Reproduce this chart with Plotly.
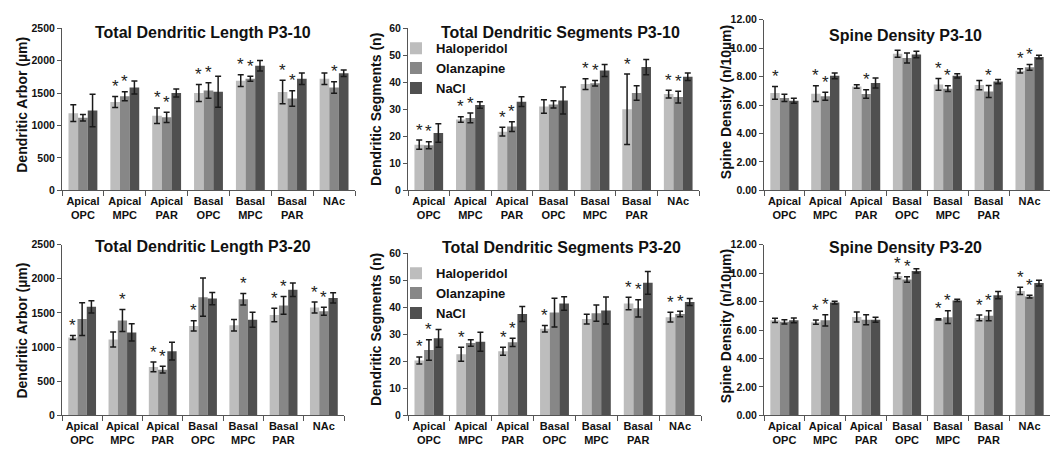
import plotly.graph_objects as go

# ---------------- data ----------------
categories = ["Apical<br>OPC", "Apical<br>MPC", "Apical<br>PAR", "Basal<br>OPC",
              "Basal<br>MPC", "Basal<br>PAR", "NAc"]
treatments = ["Haloperidol", "Olanzapine", "NaCl"]

# Total Dendritic Length P3-10
len10_hal = [1190, 1360, 1150, 1500, 1690, 1515, 1720]
len10_hal_err = [130, 85, 120, 130, 90, 180, 90]
len10_ola = [1120, 1450, 1125, 1540, 1720, 1415, 1585]
len10_ola_err = [50, 70, 80, 120, 40, 120, 90]
len10_nacl = [1230, 1585, 1500, 1520, 1920, 1720, 1805]
len10_nacl_err = [250, 100, 60, 240, 80, 90, 50]
len10_sig_hal = [0, 1, 1, 1, 1, 1, 0]
len10_sig_ola = [0, 1, 1, 1, 1, 1, 1]

# Total Dendritic Segments P3-10
seg10_hal = [16.9, 26.2, 21.7, 31.0, 39.3, 30.0, 35.6]
seg10_hal_err = [1.7, 1.0, 1.6, 2.5, 2.0, 13.0, 1.4]
seg10_ola = [16.7, 26.8, 23.6, 31.8, 39.6, 36.0, 34.5]
seg10_ola_err = [1.3, 1.8, 1.8, 1.3, 1.0, 2.7, 2.2]
seg10_nacl = [21.2, 31.6, 32.8, 33.2, 44.3, 45.6, 42.0]
seg10_nacl_err = [3.4, 1.2, 1.8, 5.0, 2.2, 2.8, 1.4]
seg10_sig_hal = [1, 1, 1, 0, 1, 1, 1]
seg10_sig_ola = [1, 1, 1, 0, 1, 0, 1]

# Spine Density P3-10
sd10_hal = [6.85, 6.80, 7.30, 9.60, 7.45, 7.40, 8.40]
sd10_hal_err = [0.45, 0.55, 0.12, 0.25, 0.42, 0.32, 0.15]
sd10_ola = [6.50, 6.62, 6.78, 9.30, 7.15, 6.95, 8.65]
sd10_ola_err = [0.25, 0.28, 0.30, 0.35, 0.20, 0.42, 0.20]
sd10_nacl = [6.30, 8.05, 7.55, 9.55, 8.05, 7.65, 9.38]
sd10_nacl_err = [0.18, 0.20, 0.35, 0.22, 0.15, 0.15, 0.12]
sd10_sig_hal = [1, 1, 0, 0, 1, 0, 1]
sd10_sig_ola = [0, 1, 1, 0, 1, 1, 1]

# Total Dendritic Length P3-20
len20_hal = [1140, 1110, 710, 1310, 1320, 1470, 1580]
len20_hal_err = [30, 110, 70, 75, 85, 100, 80]
len20_ola = [1410, 1390, 670, 1730, 1700, 1610, 1525]
len20_ola_err = [240, 160, 50, 280, 85, 130, 60]
len20_nacl = [1590, 1215, 940, 1710, 1400, 1840, 1720]
len20_nacl_err = [90, 125, 130, 90, 110, 100, 75]
len20_sig_hal = [1, 0, 1, 1, 0, 1, 1]
len20_sig_ola = [0, 1, 1, 0, 1, 1, 1]

# Total Dendritic Segments P3-20
seg20_hal = [20.3, 22.6, 23.7, 32.0, 35.6, 41.4, 36.3]
seg20_hal_err = [1.3, 2.6, 1.5, 1.2, 1.8, 2.3, 1.8]
seg20_ola = [24.2, 26.8, 27.0, 38.0, 37.8, 39.6, 37.5]
seg20_ola_err = [3.8, 1.2, 1.5, 5.3, 3.0, 3.2, 1.0]
seg20_nacl = [28.5, 27.2, 37.5, 41.4, 38.8, 49.0, 41.9]
seg20_nacl_err = [3.3, 3.5, 2.8, 2.5, 5.0, 4.2, 1.3]
seg20_sig_hal = [1, 1, 1, 1, 0, 1, 1]
seg20_sig_ola = [1, 0, 1, 0, 0, 1, 1]

# Spine Density P3-20
sd20_hal = [6.68, 6.55, 6.92, 9.80, 6.75, 6.85, 8.75]
sd20_hal_err = [0.15, 0.15, 0.35, 0.20, 0.05, 0.20, 0.25]
sd20_ola = [6.58, 6.68, 6.72, 9.55, 6.90, 7.00, 8.35]
sd20_ola_err = [0.15, 0.40, 0.35, 0.20, 0.45, 0.35, 0.10]
sd20_nacl = [6.68, 7.93, 6.72, 10.15, 8.08, 8.45, 9.30]
sd20_nacl_err = [0.17, 0.10, 0.18, 0.15, 0.08, 0.25, 0.20]
sd20_sig_hal = [0, 1, 0, 1, 1, 1, 1]
sd20_sig_ola = [0, 1, 0, 1, 1, 1, 1]

titles = ["Total Dendritic Length P3-10", "Total Dendritic Segments P3-10", "Spine Density P3-10",
          "Total Dendritic Length P3-20", "Total Dendritic Segments P3-20", "Spine Density P3-20"]
ytitles = ["Dendritic Arbor (µm)", "Dendritic Segments (n)", "Spine Density (n/10µm)",
           "Dendritic Arbor (µm)", "Dendritic Segments (n)", "Spine Density (n/10µm)"]

# ---------------- style / layout ----------------
W, H = 1050, 462
FONT = "Liberation Sans, Arial, sans-serif"
colors = ["#bdbdbd", "#878787", "#505050"]
BARGAP = 0.31

panels = [
    dict(vals=[len10_hal, len10_ola, len10_nacl], errs=[len10_hal_err, len10_ola_err, len10_nacl_err],
         sig=[len10_sig_hal, len10_sig_ola], yr=[0, 2500], dt=500, fmt="d",
         xd=(62, 355), yd=(22.7, 189.3), tpos=(203, 27), ytpos=(21.7, 101.7)),
    dict(vals=[seg10_hal, seg10_ola, seg10_nacl], errs=[seg10_hal_err, seg10_ola_err, seg10_nacl_err],
         sig=[seg10_sig_hal, seg10_sig_ola], yr=[0, 60], dt=10, fmt="d",
         xd=(408, 699), yd=(22.7, 189.3), tpos=(560, 27.5), ytpos=(376, 106.7)),
    dict(vals=[sd10_hal, sd10_ola, sd10_nacl], errs=[sd10_hal_err, sd10_ola_err, sd10_nacl_err],
         sig=[sd10_sig_hal, sd10_sig_ola], yr=[0, 12], dt=2, fmt=".2f",
         xd=(764, 1050), yd=(14, 189.3), tpos=(905, 30), ytpos=(726.7, 99)),
    dict(vals=[len20_hal, len20_ola, len20_nacl], errs=[len20_hal_err, len20_ola_err, len20_nacl_err],
         sig=[len20_sig_hal, len20_sig_ola], yr=[0, 2500], dt=500, fmt="d",
         xd=(62, 344), yd=(245, 420.3), tpos=(203, 247), ytpos=(21.7, 333.5)),
    dict(vals=[seg20_hal, seg20_ola, seg20_nacl], errs=[seg20_hal_err, seg20_ola_err, seg20_nacl_err],
         sig=[seg20_sig_hal, seg20_sig_ola], yr=[0, 60], dt=10, fmt="d",
         xd=(408, 701), yd=(253.7, 420.3), tpos=(561, 247.5), ytpos=(376, 332.7)),
    dict(vals=[sd20_hal, sd20_ola, sd20_nacl], errs=[sd20_hal_err, sd20_ola_err, sd20_nacl_err],
         sig=[sd20_sig_hal, sd20_sig_ola], yr=[0, 12], dt=2, fmt=".2f",
         xd=(764, 1050), yd=(245, 420.3), tpos=(905, 248), ytpos=(726.7, 329)),
]

fig = go.Figure()
annotations = []
layout_axes = {}
bw = (1 - BARGAP) / 3.0

for k, p in enumerate(panels):
    n = k + 1
    sfx = "" if n == 1 else str(n)
    xa, ya = "x" + sfx, "y" + sfx
    legend_name = "legend" if n == 2 else ("legend2" if n == 5 else None)
    for t in range(3):
        fig.add_trace(go.Bar(
            x=categories, y=p["vals"][t], name=treatments[t],
            marker=dict(color=colors[t], line=dict(width=0)),
            error_y=dict(type="data", array=p["errs"][t], visible=True,
                         color="#1a1a1a", thickness=1.5, width=3),
            xaxis=xa, yaxis=ya,
            showlegend=legend_name is not None,
            legend=legend_name if legend_name else "legend",
        ))
    # significance asterisks (Haloperidol, Olanzapine vs NaCl)
    for t in range(2):
        for i, s in enumerate(p["sig"][t]):
            if s:
                annotations.append(dict(
                    x=i + (t - 1) * bw, y=p["vals"][t][i] + p["errs"][t][i],
                    xref=xa, yref=ya, text="*", showarrow=False,
                    yanchor="middle", yshift=10,
                    font=dict(family=FONT, size=17, color="#222222")))
    # panel title
    annotations.append(dict(
        x=p["tpos"][0] / W, y=1 - p["tpos"][1] / H, xref="paper", yref="paper",
        text=titles[k], showarrow=False, xanchor="center", yanchor="middle",
        font=dict(family=FONT, size=16, color="#111111", weight="bold")))
    # y-axis title
    annotations.append(dict(
        x=p["ytpos"][0] / W, y=1 - p["ytpos"][1] / H, xref="paper", yref="paper",
        text=ytitles[k], showarrow=False, xanchor="center", yanchor="middle",
        textangle=-90,
        font=dict(family=FONT, size=14, color="#111111", weight="bold")))

    layout_axes["xaxis" + sfx] = dict(
        domain=[p["xd"][0] / W, p["xd"][1] / W], anchor=ya,
        type="category", tickson="boundaries", ticks="outside", ticklen=5,
        tickangle=0,
        tickcolor="#555555", showline=True, linecolor="#555555", linewidth=1,
        showgrid=False, zeroline=False, range=[-0.5, 6.5],
        tickfont=dict(family=FONT, size=11, color="#111111", weight="bold"))
    layout_axes["yaxis" + sfx] = dict(
        domain=[1 - p["yd"][1] / H, 1 - p["yd"][0] / H], anchor=xa,
        range=p["yr"], dtick=p["dt"], tick0=0, tickformat=p["fmt"],
        ticks="outside", ticklen=4, tickcolor="#555555",
        showline=True, linecolor="#555555", linewidth=1,
        showgrid=False, zeroline=False,
        tickfont=dict(family=FONT, size=10.5, color="#111111", weight="bold"))

legend_font = dict(family=FONT, size=13, color="#111111", weight="bold")
fig.update_layout(
    width=W, height=H, margin=dict(l=0, r=0, t=0, b=0),
    paper_bgcolor="white", plot_bgcolor="white",
    barmode="group", bargap=BARGAP, bargroupgap=0,
    annotations=annotations,
    legend=dict(x=396 / W, y=1 - 28 / H, xanchor="left", yanchor="top",
                bgcolor="rgba(0,0,0,0)", itemwidth=30, tracegroupgap=0,
                font=legend_font),
    legend2=dict(x=396 / W, y=1 - 259 / H, xanchor="left", yanchor="top",
                 bgcolor="rgba(0,0,0,0)", itemwidth=30, tracegroupgap=0,
                 font=legend_font),
    **layout_axes,
)

post = ("document.body.style.margin='0';document.body.style.overflow='hidden';"
        "var d=document.getElementById('{plot_id}');"
        "d.style.position='absolute';d.style.left='0px';d.style.top='0px';")
fig.write_html("out.html", post_script=post, config={"displayModeBar": False})
